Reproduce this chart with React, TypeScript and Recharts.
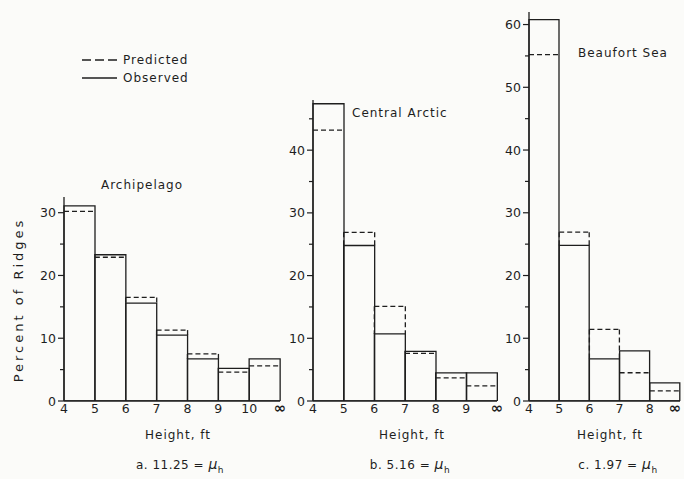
import React from "react";
import { BarChart, Bar, XAxis, YAxis, Legend } from "recharts";

const INK = "#1e1e1e";
const FONT = "'DejaVu Sans', sans-serif";
const W = 684;
const H = 479;
const BASE = 401; // pixel row of the zero line, shared by all three panels
const XAXIS_H = 30;
const YAXIS_W = 30;

// a. Archipelago
const archBins = ["4-5", "5-6", "6-7", "7-8", "8-9", "9-10", "10-∞"];
const archObserved = [31.1, 23.3, 15.6, 10.5, 6.7, 5.2, 6.7];
const archPredicted = [30.2, 22.9, 16.5, 11.3, 7.5, 4.6, 5.6];
const archEdges = ["4", "5", "6", "7", "8", "9", "10", "∞"];
const archTicks = [0, 5, 10, 15, 20, 25, 30];

// b. Central Arctic
const centralBins = ["4-5", "5-6", "6-7", "7-8", "8-9", "9-∞"];
const centralObserved = [47.4, 24.8, 10.7, 7.9, 4.5, 4.5];
const centralPredicted = [43.2, 26.9, 15.1, 7.6, 3.7, 2.4];
const centralEdges = ["4", "5", "6", "7", "8", "9", "∞"];
const centralTicks = [0, 5, 10, 15, 20, 25, 30, 35, 40, 45];

// c. Beaufort Sea
const beaufortBins = ["4-5", "5-6", "6-7", "7-8", "8-∞"];
const beaufortObserved = [60.8, 24.8, 6.7, 8.0, 2.9];
const beaufortPredicted = [55.2, 26.9, 11.4, 4.5, 1.6];
const beaufortEdges = ["4", "5", "6", "7", "8", "∞"];
const beaufortTicks = [0, 5, 10, 15, 20, 25, 30, 35, 40, 45, 50, 55, 60];

// dashed step outline for the predicted histogram
const PredictedStep = (props: any) => {
  const { x, y, width, height, payload } = props;
  if (!height || !payload) return null;
  const unit = height / payload.pred;
  const obsY = y + height - payload.obs * unit;
  return (
    <g stroke={INK} strokeWidth={1.3} strokeDasharray="5 3" fill="none">
      <line x1={x} y1={y} x2={x + width} y2={y} />
      {obsY > y + 0.5 && (
        <>
          <line x1={x} y1={y} x2={x} y2={obsY} />
          <line x1={x + width} y1={y} x2={x + width} y2={obsY} />
        </>
      )}
    </g>
  );
};

const AxisTick = (props: any) => {
  const { x, y, payload } = props;
  const axisX = x + 8;
  const major = payload.value % 10 === 0;
  return (
    <g>
      <line x1={axisX - (major ? 6 : 4)} x2={axisX} y1={y} y2={y} stroke={INK} strokeWidth={1.2} />
      {major && (
        <text x={axisX - 8} y={y} dy="0.36em" textAnchor="end" fill={INK} fontSize={12.5} fontFamily={FONT}>
          {payload.value}
        </text>
      )}
    </g>
  );
};

const EdgeLabel = ({ x, y, label }: any) => {
  const inf = label === "∞";
  return (
    <text
      x={Math.min(x, W - 9)}
      y={y}
      dy={inf ? "0.62em" : "0.71em"}
      textAnchor="middle"
      fontSize={inf ? 15 : 12.5}
      fontWeight={inf ? "bold" : "normal"}
    >
      {label}
    </text>
  );
};

// bin edges are labelled, not bin centres
const EdgeTick = (props: any) => {
  const { x, y, payload, index, edges, band } = props;
  const half = typeof payload?.offset === "number" && payload.offset > 0 ? payload.offset : band / 2;
  const last = index === edges.length - 2;
  return (
    <g fill={INK} fontFamily={FONT}>
      <EdgeLabel x={x - half} y={y} label={edges[index]} />
      {last && <EdgeLabel x={x + half} y={y} label={edges[index + 1]} />}
    </g>
  );
};

const SeriesKey = ({ payload }: any) => (
  <div style={{ fontFamily: FONT, fontSize: 12, letterSpacing: 1, color: INK }}>
    {[...(payload || [])].reverse().map((entry: any) => (
      <div key={entry.value} style={{ display: "flex", alignItems: "center", height: 18 }}>
        <svg width={36} height={4}>
          <line
            x1={0}
            y1={2}
            x2={35}
            y2={2}
            stroke={INK}
            strokeWidth={1.3}
            strokeDasharray={entry.dataKey === "pred" ? "9 4" : undefined}
          />
        </svg>
        <span style={{ marginLeft: 5 }}>{entry.value}</span>
      </div>
    ))}
  </div>
);

type PanelProps = {
  bins: string[];
  observed: number[];
  predicted: number[];
  edges: string[];
  ticks: number[];
  yMax: number;
  plotLeft: number;
  plotRight: number;
  plotTop: number;
  withKey?: boolean;
};

const HistPanel = ({ bins, observed, predicted, edges, ticks, yMax, plotLeft, plotRight, plotTop, withKey }: PanelProps) => {
  const rows = bins.map((bin, i) => ({ bin, obs: observed[i], pred: predicted[i] }));
  const band = (plotRight - plotLeft) / bins.length;
  return (
    <div style={{ position: "absolute", left: 0, top: 0 }}>
      <BarChart
        width={W}
        height={H}
        data={rows}
        barCategoryGap={0}
        barGap={0}
        margin={{ top: plotTop, right: W - plotRight, bottom: H - BASE - XAXIS_H, left: plotLeft - YAXIS_W }}
      >
        <XAxis
          xAxisId="obs"
          dataKey="bin"
          interval={0}
          tickLine={false}
          tickSize={0}
          tickMargin={3}
          height={XAXIS_H}
          axisLine={{ stroke: INK, strokeWidth: 1.3 }}
          tick={<EdgeTick edges={edges} band={band} />}
        />
        <XAxis xAxisId="pred" dataKey="bin" hide />
        <YAxis
          type="number"
          domain={[0, yMax]}
          allowDataOverflow
          ticks={ticks}
          interval={0}
          tickLine={false}
          tickSize={6}
          tickMargin={2}
          width={YAXIS_W}
          axisLine={{ stroke: INK, strokeWidth: 1.3 }}
          tick={<AxisTick />}
        />
        <Bar xAxisId="obs" dataKey="obs" name="Observed" fill="none" stroke={INK} strokeWidth={1.3} isAnimationActive={false} />
        <Bar xAxisId="pred" dataKey="pred" name="Predicted" fill="none" shape={PredictedStep} isAnimationActive={false} />
        {withKey && (
          <Legend
            layout="horizontal"
            verticalAlign="middle"
            align="center"
            content={<SeriesKey />}
            wrapperStyle={{ top: 51, left: 82, width: 130 }}
          />
        )}
      </BarChart>
    </div>
  );
};

const Note = ({ x, y, anchor = "center", size = 12, spacing = 1, children }: any) => (
  <div
    style={{
      position: "absolute",
      left: x,
      top: y,
      transform: anchor === "center" ? "translate(-50%, -50%)" : "translate(0, -50%)",
      whiteSpace: "nowrap",
      fontFamily: FONT,
      fontSize: size,
      letterSpacing: spacing,
      color: INK,
      lineHeight: "16px",
    }}
  >
    {children}
  </div>
);

const Mu = () => (
  <span>
    <i style={{ fontSize: 14 }}>μ</i>
    <sub style={{ fontSize: 9 }}>h</sub>
  </span>
);

export default function App() {
  return (
    <div style={{ position: "absolute", left: 0, top: 0, width: W, height: H, background: "#fbfbf9", overflow: "hidden" }}>
      <HistPanel
        bins={archBins}
        observed={archObserved}
        predicted={archPredicted}
        edges={archEdges}
        ticks={archTicks}
        yMax={32.5}
        plotLeft={64}
        plotRight={280}
        plotTop={197}
        withKey
      />
      <HistPanel
        bins={centralBins}
        observed={centralObserved}
        predicted={centralPredicted}
        edges={centralEdges}
        ticks={centralTicks}
        yMax={48}
        plotLeft={313}
        plotRight={497}
        plotTop={100}
      />
      <HistPanel
        bins={beaufortBins}
        observed={beaufortObserved}
        predicted={beaufortPredicted}
        edges={beaufortEdges}
        ticks={beaufortTicks}
        yMax={62}
        plotLeft={529}
        plotRight={680}
        plotTop={12}
      />

      <Note x={142} y={185}>Archipelago</Note>
      <Note x={352} y={113} anchor="start">Central Arctic</Note>
      <Note x={578} y={53} anchor="start">Beaufort Sea</Note>

      <div
        style={{
          position: "absolute",
          left: 18,
          top: 300,
          transform: "translate(-50%, -50%) rotate(-90deg)",
          whiteSpace: "nowrap",
          fontFamily: FONT,
          fontSize: 13,
          letterSpacing: 3,
          color: INK,
        }}
      >
        Percent of Ridges
      </div>

      <Note x={178} y={435}>Height, ft</Note>
      <Note x={412} y={435}>Height, ft</Note>
      <Note x={610} y={435}>Height, ft</Note>

      <Note x={180} y={467} spacing={0.5}>a. 11.25 = <Mu /></Note>
      <Note x={410} y={467} spacing={0.5}>b. 5.16 = <Mu /></Note>
      <Note x={618} y={467} spacing={0.5}>c. 1.97 = <Mu /></Note>
    </div>
  );
}
